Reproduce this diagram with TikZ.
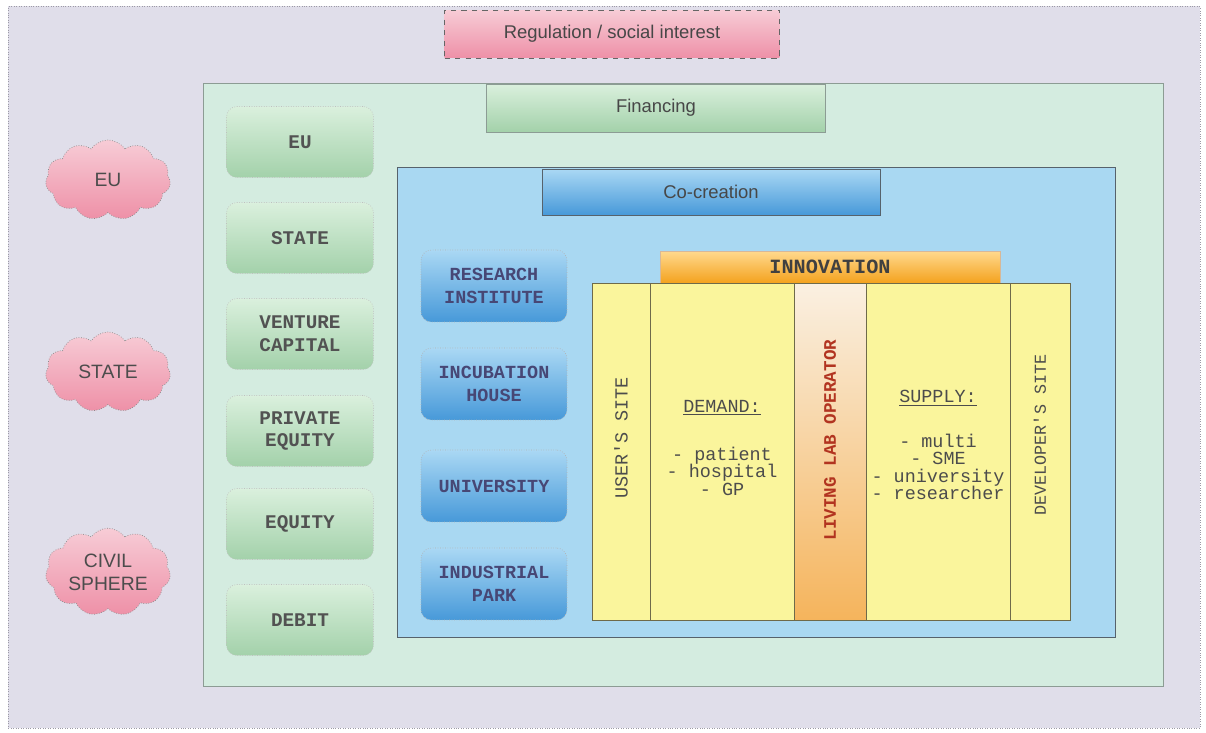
\documentclass[tikz,border=0pt]{standalone}
\usepackage{fontspec}
\setsansfont{Liberation Sans}
\setmonofont{Liberation Mono}
\usetikzlibrary{shapes.symbols}
\definecolor{spherebg}{HTML}{E0DEEA}
\definecolor{sphereline}{HTML}{9C9AA6}
\definecolor{finbg}{HTML}{D4ECE0}
\definecolor{finline}{HTML}{8C9C94}
\definecolor{cobg}{HTML}{A9D8F2}
\definecolor{coline}{HTML}{56626C}
\definecolor{colyellow}{HTML}{FAF59C}
\definecolor{colline}{HTML}{6E6A4A}
\definecolor{llored}{HTML}{B23420}
\definecolor{pinktop}{HTML}{F7CCD6}
\definecolor{pinkbot}{HTML}{EE90A7}
\definecolor{greentop}{HTML}{DAF0DD}
\definecolor{greenbot}{HTML}{A3D1AA}
\definecolor{bluetop}{HTML}{AAD8F4}
\definecolor{bluebot}{HTML}{4799D9}
\definecolor{orangetop}{HTML}{FFD98E}
\definecolor{orangebot}{HTML}{F4A21E}
\definecolor{llotop}{HTML}{FAF0E2}
\definecolor{llobot}{HTML}{F5B45C}
\newcommand{\boxfont}[1]{\ttfamily\bfseries\fontsize{#1}{13}\selectfont}
\newcommand{\colfont}[1]{\ttfamily\fontsize{#1}{10}\selectfont}
\tikzset{
  sphere/.style={draw=sphereline, densely dotted, fill=spherebg, anchor=north west},
  panel/.style={draw=#1line, fill=#1bg, anchor=north west},
  tab/.style={draw=#1, thin, font=\sffamily\fontsize{10.5}{12}\selectfont, text=black!72},
  actor/.style={cloud, cloud puffs=11, cloud puff arc=110, aspect=1.6,
    minimum width=2.5cm, minimum height=1.6cm, inner sep=1pt,
    draw=black!45, densely dotted, top color=pinktop, bottom color=pinkbot,
    align=center, font=\sffamily\fontsize{11}{13}\selectfont, text=black!70},
  fundbox/.style={rounded corners=6pt, draw=black!25, densely dotted,
    top color=greentop, bottom color=greenbot,
    minimum width=2.94cm, minimum height=1.42cm, align=center,
    font=\boxfont{11}, text=black!68},
  instbox/.style={rounded corners=6pt, draw=black!30, densely dotted,
    top color=bluetop, bottom color=bluebot,
    minimum width=2.92cm, minimum height=1.44cm, align=center,
    font=\boxfont{10.5}, text=blue!25!black!72},
  column/.style={draw=colline, fill=colyellow, minimum height=6.74cm, inner sep=0pt},
  coltext/.style={font=\colfont{10.5}, text=black!70, align=center}
}
\begin{document}
\begin{tikzpicture}[x=0.02cm, y=-0.02cm]
  \useasboundingbox (0,0) rectangle (1206,733);
  \node[sphere, minimum width=23.84cm, minimum height=14.44cm] (society) at (8,6) {};
  \node[tab=black!60, dashed, top color=pinktop, bottom color=pinkbot,
    minimum width=6.7cm, minimum height=0.96cm] (regulation) at (612,34) {Regulation / social interest};
  \node[panel=fin, minimum width=19.2cm, minimum height=12.06cm] (financing) at (203,83) {};
  \node[tab=finline, top color=greentop, bottom color=greenbot,
    minimum width=6.78cm, minimum height=0.96cm] (fintab) at (656,108) {Financing};
  \node[panel=co, minimum width=14.36cm, minimum height=9.4cm] (cocreation) at (397,167) {};
  \node[tab=coline, top color=bluetop, bottom color=bluebot,
    minimum width=6.76cm, minimum height=0.92cm] (cotab) at (711,192) {Co-creation};

  \node[actor] (eu) at (108,180) {EU};
  \node[actor] (state) at (108,372) {STATE};
  \node[actor] (civil) at (108,572) {CIVIL\\SPHERE};

  \foreach \y/\name/\txt in {142/fineu/EU, 238/finstate/STATE, 334/finvc/{VENTURE\\CAPITAL},
      431/finpe/{PRIVATE\\EQUITY}, 524/finequity/EQUITY, 620/findebit/DEBIT}
    \node[fundbox] (\name) at (300,\y) {\txt};

  \foreach \y/\name/\txt in {286/research/{RESEARCH\\INSTITUTE}, 384/incubation/{INCUBATION\\HOUSE},
      486/university/UNIVERSITY, 584/industrial/{INDUSTRIAL\\PARK}}
    \node[instbox] (\name) at (494,\y) {\txt};

  \node[draw=orange!60!black!40, top color=orangetop, bottom color=orangebot,
    minimum width=6.8cm, minimum height=0.64cm, inner sep=0pt,
    font=\boxfont{11.5}, text=black!75] (innovation) at (830,267) {INNOVATION};

  \foreach \x/\w/\name in {621/1.16/usercol, 722/2.88/demandcol, 938/2.88/supplycol, 1040/1.2/devcol}
    \node[column, minimum width=\w cm] (\name) at (\x,451.5) {};
  \node[column, minimum width=1.44cm, top color=llotop, bottom color=llobot]
    (llocol) at (830,451.5) {};

  \node[coltext, rotate=90] (usertxt) at (621,438) {USER'S SITE};
  \node[coltext, font=\colfont{9.5}, rotate=90] (devtxt) at (1040,435) {DEVELOPER'S SITE};
  \node[font=\boxfont{10}, text=llored, rotate=90] (llotxt) at (830,440) {LIVING LAB OPERATOR};
  \node[coltext] (demandhead) at (722,408) {\underline{DEMAND:}};
  \node[coltext] (demandlist) at (722,471) {- patient\\- hospital\\- GP};
  \node[coltext] (supplyhead) at (938,398) {\underline{SUPPLY:}};
  \node[coltext] (supplylist) at (938,467) {- multi\\- SME\\- university\\- researcher};
\end{tikzpicture}
\end{document}
